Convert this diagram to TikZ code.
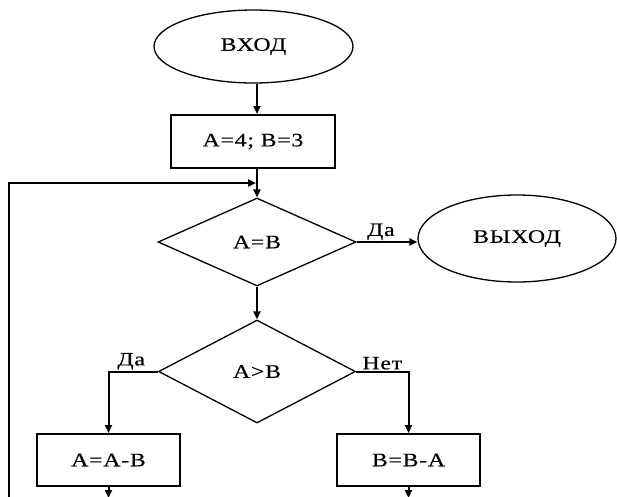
\documentclass[tikz,border=0pt]{standalone}
\usepackage{fontspec}
\setmainfont{Liberation Serif}[FakeStretch=1.25,LetterSpace=4,FakeBold=0.3]
\usetikzlibrary{shapes.geometric,arrows.meta}
\begin{document}
\begin{tikzpicture}[x=1pt,y=-1pt,
  txt/.style={font=\fontsize{19}{22}\selectfont},
  term/.style={ellipse,draw,line width=1.3pt,inner sep=0pt,txt},
  proc/.style={rectangle,draw,line width=2pt,inner sep=0pt,txt},
  cond/.style={diamond,draw,line width=1.3pt,inner sep=0pt,txt},
  arr/.style={line width=2pt,-{Triangle[length=8pt,width=7pt]}},
  lab/.style={txt,inner sep=1pt}]
\useasboundingbox (0,0) rectangle (617,496);
\clip (0,0) rectangle (617,496);

% blocks
\node[term,minimum width=199pt,minimum height=73pt] (start) at (253.5,46.5) {ВХОД};
\node[proc,minimum width=164pt,minimum height=53pt] (init) at (253,141.5) {A=4; B=3};
\node[cond,minimum width=198pt,minimum height=88pt] (eq) at (257,242) {A=B};
\node[term,minimum width=198pt,minimum height=87pt] (stop) at (517,238.5) {ВЫХОД};
\node[cond,minimum width=197pt,minimum height=103pt] (gt) at (257,371.5) {A>B};
\node[proc,minimum width=143pt,minimum height=52pt] (suba) at (108.5,460) {A=A-B};
\node[proc,minimum width=143pt,minimum height=52pt] (subb) at (408.5,460) {B=B-A};

% loop-back line and lower ends
\coordinate (loopbot) at (8.5,498);
\coordinate (loopcorner) at (8.5,183);

% connectors
\draw[arr] (start.south -| eq.north) -- (init.north -| eq.north);
\draw[arr] (init.south -| eq.north) -- (eq.north);
\draw[arr] (loopbot) -- (loopcorner) -- ([xshift=-1pt]loopcorner -| eq.north);
\draw[arr] (eq.east) -- (eq.east -| stop.west)
  node[lab,pos=0.4,above] {Да};
\draw[arr] (eq.south) -- (gt.north);
\draw[arr] (gt.west) -| (suba.north)
  node[lab,pos=0.27,above] {Да};
\draw[arr] (gt.east) -| (subb.north)
  node[lab,pos=0.25,above] {Нет};
\draw[arr] (suba.south) -- (suba.south |- loopbot);
\draw[arr] (subb.south) -- (subb.south |- loopbot);
\end{tikzpicture}
\end{document}
